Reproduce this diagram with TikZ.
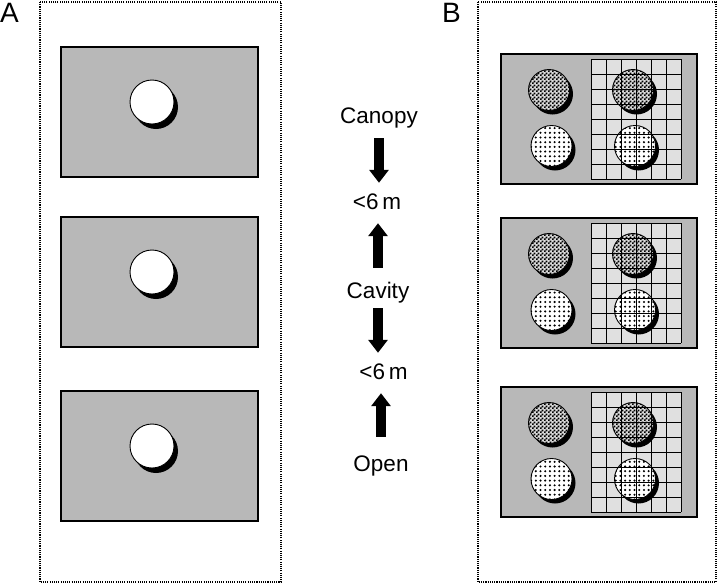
\documentclass[tikz,border=0pt]{standalone}
\usepackage{fontspec}
\setmainfont{Liberation Sans}
\usetikzlibrary{arrows.meta,patterns.meta}

\pgfdeclarepattern{
  name=finechk,
  type=uncolored,
  bottom left={\pgfpointorigin},
  top right={\pgfpoint{4pt}{4pt}},
  tile size={\pgfpoint{4pt}{4pt}},
  code={
    \pgfpathrectangle{\pgfpointorigin}{\pgfpoint{2pt}{2pt}}
    \pgfpathrectangle{\pgfpoint{2pt}{2pt}}{\pgfpoint{2pt}{2pt}}
    \pgfusepath{fill}
  }
}

\tikzset{
  panel/.style={draw, line width=1.1pt, dash pattern=on 1.1pt off 1.1pt},
  field/.style={draw, line width=1.3pt, fill=black!28},
  plot/.style={fill=black!12},
  gridline/.style={line width=1pt},
  hole/.style={draw, line width=0.9pt, fill=white},
  holechk/.style={draw, line width=0.9pt, preaction={fill=black!15}, pattern=finechk},
  holedot/.style={draw, line width=0.9pt, preaction={fill=white}, pattern={Dots[distance=4.7pt,radius=1.15pt]}},
  shade/.style={fill=black},
  word/.style={font=\fontsize{22.5}{25}\selectfont, inner sep=0pt, text height=16pt, text depth=4.5pt, anchor=base},
  letter/.style={font=\fontsize{28}{32}\selectfont, inner sep=0pt, anchor=base west},
  fat/.style={line width=10pt, -{Triangle[width=19pt,length=13pt]}},
}

\begin{document}
\begin{tikzpicture}[x=1pt,y=-1pt]
%  \draw [help lines, opacity=0.5] (0,0) grid (720,584);
  \useasboundingbox (0,0) rectangle (720,584);
  \node [letter] (labA) at (0,22) {A};
  \node [letter] (labB) at (442,22) {B};
  \draw [panel] (40,2) rectangle (281,582);
  \draw [panel] (478,2) rectangle (716,582);

  % panel A
  \foreach \t in {47,217,391} {
    \draw [field] (61,\t) rectangle (258,\t+130);
    \fill [shade] (156,\t+60) circle (22);
    \draw [hole] (152,\t+55) circle (22);
  }

  % panel B
  \foreach \t in {54,218,387} {
    \draw [field] (501,\t) rectangle (697,\t+130);
    \fill [plot] (591,\t+5) rectangle (681,\t+125);
    \fill [shade] (552.5,\t+40) circle (20.5);
    \draw [holechk] (549,\t+36) circle (20.5);
    \fill [shade] (555,\t+96) circle (20.5);
    \draw [holedot] (551.5,\t+92) circle (20.5);
    \fill [shade] (636.5,\t+40) circle (20.5);
    \draw [holechk] (633,\t+36) circle (20.5);
    \fill [shade] (638.5,\t+96) circle (20.5);
    \draw [holedot] (635,\t+92) circle (20.5);
    \foreach \g in {0,15,...,90}
      \draw [gridline] (591+\g,\t+5) -- (591+\g,\t+125);
    \foreach \g in {0,15,...,120}
      \draw [gridline] (591,\t+5+\g) -- (681,\t+5+\g);
  }

  % heights
  \node [word] (canopy) at (379,123) {Canopy};
  \node [word] (m1) at (377,209) {<6\,m};
  \node [word] (cavity) at (378,298) {Cavity};
  \node [word] (m2) at (383.5,379) {<6\,m};
  \node [word] (open) at (381,471) {Open};
  \draw [fat, shorten <=10.5pt, shorten >=10pt] (canopy.south) -- (canopy.south |- m1.north);
  \draw [fat, shorten <=14pt, shorten >=9.5pt] (cavity.north) -- (cavity.north |- m1.south);
  \draw [fat, shorten <=5.5pt, shorten >=10pt] (cavity.south) -- (cavity.south |- m2.north);
  \draw [fat, shorten <=18pt, shorten >=9.5pt] (open.north) -- (open.north |- m2.south);
\end{tikzpicture}
\end{document}
